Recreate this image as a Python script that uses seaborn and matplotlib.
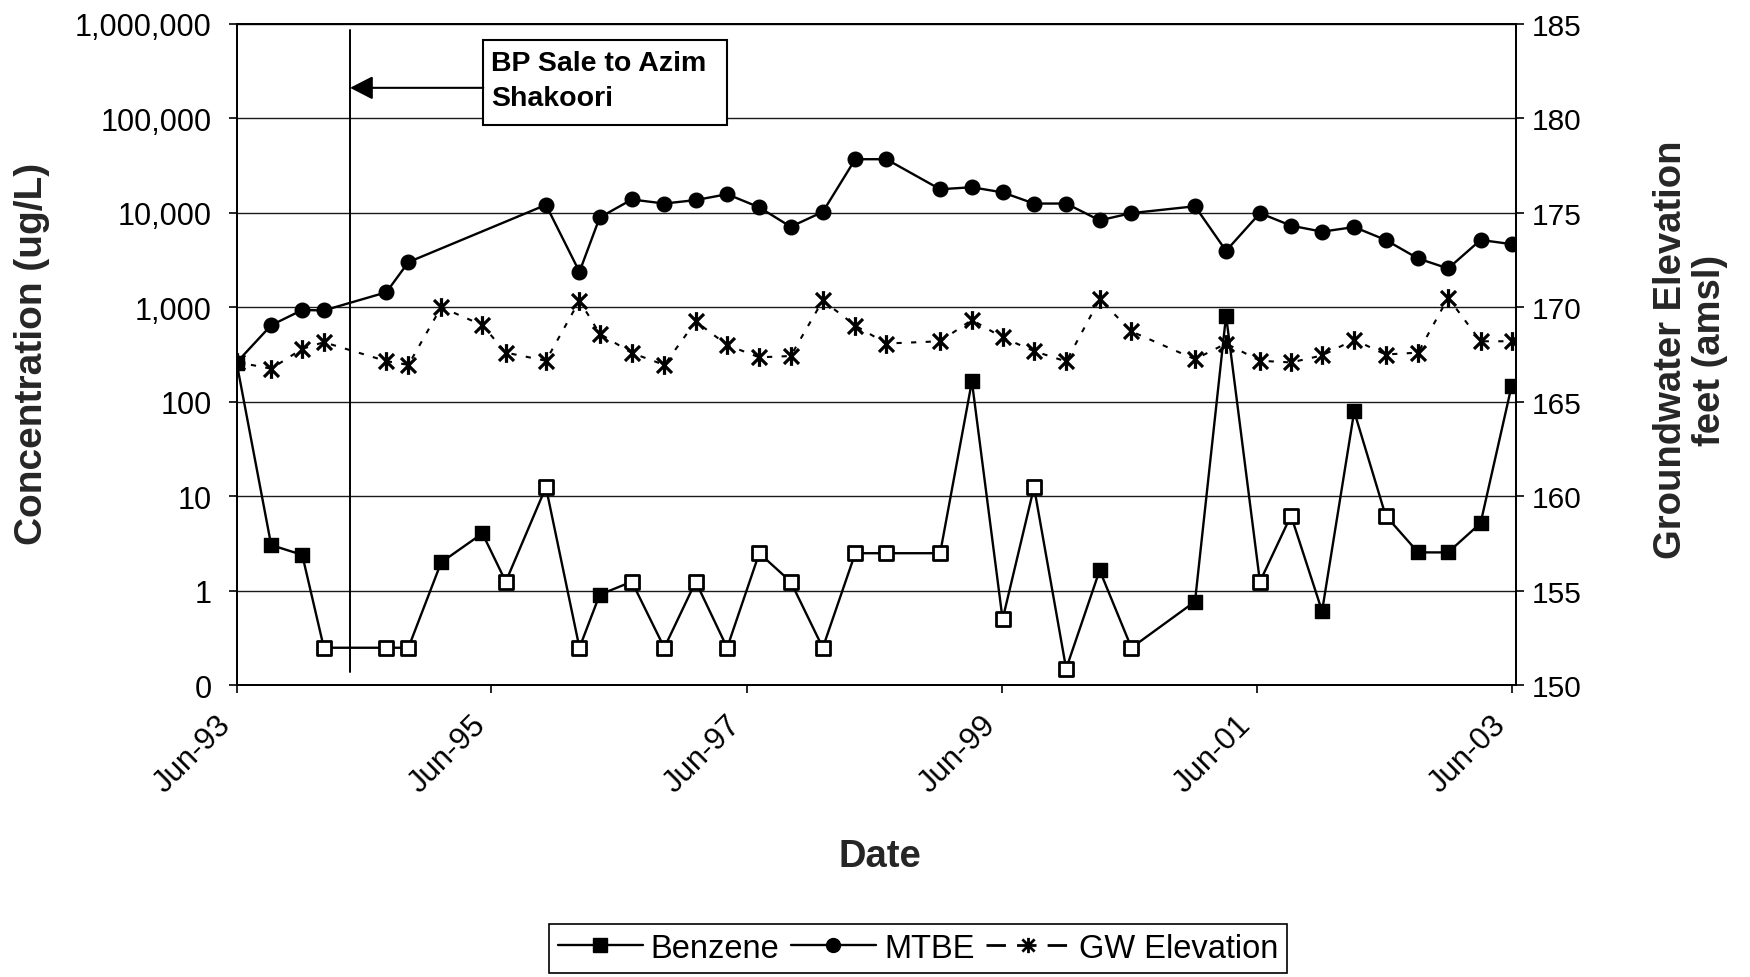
import matplotlib
matplotlib.use("Agg")
import matplotlib.pyplot as plt
import matplotlib.dates as mdates
import numpy as np
import pandas as pd
import seaborn as sns
from matplotlib.lines import Line2D
from matplotlib.patches import Rectangle
from matplotlib.path import Path
from matplotlib.ticker import NullLocator

# ---- monitoring-well data -------------------------------------------------
sample_dates = [
    "1993-06-01", "1993-09-08", "1993-12-06", "1994-02-06", "1994-08-04",
    "1994-10-06", "1995-01-08", "1995-05-06", "1995-07-12", "1995-11-04",
    "1996-02-08", "1996-04-06", "1996-07-07", "1996-10-08", "1997-01-06",
    "1997-04-06", "1997-07-07", "1997-10-05", "1998-01-05", "1998-04-08",
    "1998-07-06", "1998-12-07", "1999-03-08", "1999-06-04", "1999-09-02",
    "1999-12-03", "2000-03-08", "2000-06-07", "2000-12-06", "2001-03-05",
    "2001-06-10", "2001-09-07", "2001-12-05", "2002-03-07", "2002-06-05",
    "2002-09-06", "2002-12-01", "2003-03-04", "2003-06-01",
]

# Benzene (ug/L); non-detects are plotted at half the reporting limit
benzene = [
    260, 3.05, 2.4, 0.25, 0.25, 0.25, 2.0, 4.05, 1.25, 12.5,
    0.25, 0.91, 1.25, 0.25, 1.25, 0.25, 2.5, 1.25, 0.25, 2.5,
    2.5, 2.5, 164, 0.5, 12.5, 0.15, 1.65, 0.25, 0.77, 815,
    1.25, 6.25, 0.61, 79, 6.25, 2.55, 2.55, 5.2, 148,
]
benzene_detected = [
    1, 1, 1, 0, 0, 0, 1, 1, 0, 0,
    0, 1, 0, 0, 0, 0, 0, 0, 0, 0,
    0, 0, 1, 0, 0, 0, 1, 0, 1, 1,
    0, 0, 1, 1, 0, 1, 1, 1, 1,
]

# MTBE (ug/L); not analysed on three dates
mtbe = [
    260, 645, 935, 925, 1440, 3000, None, None, None, 12100,
    2370, 8900, 13800, 12500, 13600, 15700, 11400, 7100, 10200, 36800,
    36800, 17700, 18600, 16400, 12500, 12500, 8300, 9900, 11700, 3950,
    9900, 7300, 6300, 7050, 5150, 3280, 2570, 5150, 4650,
]

# Groundwater elevation (feet amsl)
gw_elevation = [
    167.1, 166.75, 167.8, 168.15, 167.15, 166.95, 170.0, 169.05, 167.6, 167.17,
    170.35, 168.6, 167.58, 166.95, 169.25, 168.0, 167.35, 167.42, 170.36, 169.03,
    168.08, 168.2, 169.33, 168.4, 167.68, 167.13, 170.42, 168.72, 167.25, 168.08,
    167.17, 167.08, 167.45, 168.28, 167.5, 167.6, 170.5, 168.2, 168.2,
]

conc_ticks = [0.1, 1, 10, 100, 1e3, 1e4, 1e5, 1e6]
conc_tick_labels = ["0", "1", "10", "100", "1,000", "10,000", "100,000", "1,000,000"]
elev_ticks = [150, 155, 160, 165, 170, 175, 180, 185]
date_ticks = ["1993-06-01", "1995-06-01", "1997-06-01", "1999-06-01",
              "2001-06-01", "2003-06-01"]
date_tick_labels = ["Jun-93", "Jun-95", "Jun-97", "Jun-99", "Jun-01", "Jun-03"]
date_range = ["1993-06-01", "2003-06-12"]

sale_date = "1994-04-22"
sale_text = "BP Sale to Azim\nShakoori"
legend_labels = ["Benzene", "MTBE", "GW Elevation"]

# ---- frame ----------------------------------------------------------------
df = pd.DataFrame({
    "date": pd.to_datetime(sample_dates),
    "benzene": np.array(benzene, dtype=float),
    "detected": benzene_detected,
    "mtbe": np.array(mtbe, dtype=float),
    "gw": np.array(gw_elevation, dtype=float),
})

sns.set_theme(style="white")
plt.rcParams["font.family"] = ["Liberation Sans", "DejaVu Sans"]
plt.rcParams["text.color"] = "black"

INK = "black"
# Excel-style "star" marker: an X crossed by a vertical bar
star = Path(
    [(-1, -1), (1, 1), (-1, 1), (1, -1), (0, -1.25), (0, 1.25)],
    [Path.MOVETO, Path.LINETO, Path.MOVETO, Path.LINETO, Path.MOVETO, Path.LINETO],
)

fig = plt.figure(figsize=(17.5, 9.78), dpi=100)
ax = fig.add_axes([0.1352, 0.2982, 0.866 - 0.1352, 0.9748 - 0.2982])
ax2 = ax.twinx()
ax.set_yscale("log")

# ---- series ---------------------------------------------------------------
sns.lineplot(data=df, x="date", y="benzene", ax=ax, color=INK, lw=1.7,
             legend=False, zorder=3)
sns.scatterplot(data=df[df["detected"] == 1], x="date", y="benzene", ax=ax,
                marker="s", s=110, color=INK, edgecolor=INK, linewidth=1.0,
                legend=False, zorder=4)
sns.scatterplot(data=df[df["detected"] == 0], x="date", y="benzene", ax=ax,
                marker="s", s=100, facecolor="white", edgecolor=INK,
                linewidth=2.0, legend=False, zorder=4)

mt = df.dropna(subset=["mtbe"])
sns.lineplot(data=mt, x="date", y="mtbe", ax=ax, color=INK, lw=1.7,
             marker="o", markersize=10.5, markerfacecolor=INK,
             markeredgecolor=INK, markeredgewidth=1.0, legend=False, zorder=3)

sns.lineplot(data=df, x="date", y="gw", ax=ax2, color=INK, lw=1.5,
             linestyle=(0, (2.5, 4.5)), marker=star, markersize=13.5,
             markeredgecolor=INK, markeredgewidth=2.3, legend=False, zorder=3)

# ---- axes -----------------------------------------------------------------
ax.set_xlim(mdates.date2num(pd.to_datetime(date_range[0])),
            mdates.date2num(pd.to_datetime(date_range[1])))
ax.set_ylim(conc_ticks[0], conc_ticks[-1])
ax.set_yticks(conc_ticks)
ax.set_yticklabels(conc_tick_labels)
ax.yaxis.set_minor_locator(NullLocator())
ax.set_xticks(mdates.date2num(pd.to_datetime(date_ticks)))
ax.set_xticklabels(date_tick_labels, rotation=45, ha="right")
ax.xaxis.set_minor_locator(NullLocator())

ax2.set_ylim(elev_ticks[0], elev_ticks[-1])
ax2.set_yticks(elev_ticks)
ax2.set_yticklabels([str(t) for t in elev_ticks])
ax2.yaxis.set_minor_locator(NullLocator())

ax.yaxis.grid(True, which="major", color="#1a1a1a", lw=1.0)
ax.xaxis.grid(False)
ax2.grid(False)

for a in (ax, ax2):
    for sp in a.spines.values():
        sp.set_visible(True)
        sp.set_color(INK)
        sp.set_linewidth(1.3)

ax.tick_params(axis="y", which="major", left=True, direction="out", length=6,
               width=1.2, pad=12, labelsize=22, colors=INK)
ax.tick_params(axis="x", which="major", bottom=True, direction="out", length=6,
               width=1.2, pad=11, labelsize=22.5, colors=INK)
ax2.tick_params(axis="y", which="major", right=True, direction="out", length=6,
                width=1.2, pad=6, labelsize=21.5, colors=INK)

ax.set_xlabel("Date", fontsize=27.5, fontweight="bold", va="center")
ax.xaxis.set_label_coords(0.5027, -0.258)
ax.set_ylabel("Concentration (ug/L)", fontsize=28, fontweight="bold",
              ha="center", va="center")
ax.yaxis.set_label_coords(-0.160, 0.502)
ax2.set_ylabel("Groundwater Elevation\nfeet (amsl)", fontsize=27.5,
               fontweight="bold", ha="center", va="center", ma="center",
               rotation=90, linespacing=1.1)
ax2.yaxis.set_label_coords(1.137, 0.508)

# ---- ownership change marker ------------------------------------------------
sale = mdates.date2num(pd.to_datetime(sale_date))
ax.axvline(sale, ymin=0.02, ymax=0.99, color=INK, lw=1.4, zorder=5)

box_x, box_y, box_w, box_h = 0.1929, 0.8466, 0.1905, 0.1282
arrow_y = 0.903
ax.add_patch(Rectangle((box_x, box_y), box_w, box_h, transform=ax.transAxes,
                       facecolor="white", edgecolor=INK, lw=1.5, zorder=6))
ax.text(box_x + 0.006, box_y + box_h * 0.53, sale_text, transform=ax.transAxes,
        ha="left", va="center", fontsize=20.5, fontweight="bold",
        linespacing=1.45, zorder=7)
ax.annotate(
    "", xy=(sale, arrow_y), xycoords=ax.get_xaxis_transform(),
    xytext=(box_x, arrow_y), textcoords="axes fraction",
    arrowprops=dict(arrowstyle="-|>,head_length=0.7,head_width=0.36",
                    color=INK, lw=1.5, shrinkA=0, shrinkB=0,
                    mutation_scale=20),
    zorder=6,
)

# ---- legend ---------------------------------------------------------------
handles = [
    Line2D([], [], color=INK, lw=1.7, marker="s", markersize=10,
           markerfacecolor=INK, markeredgecolor=INK),
    Line2D([], [], color=INK, lw=1.7, marker="o", markersize=10,
           markerfacecolor=INK, markeredgecolor=INK),
    Line2D([], [], color=INK, lw=2.0, linestyle=(0, (7, 4)), marker=star,
           markersize=11, markeredgecolor=INK, markeredgewidth=2.0),
]
leg = fig.legend(handles, legend_labels, loc="center",
                 bbox_to_anchor=(0.5246, 0.0295), ncol=3, fontsize=23.5,
                 frameon=True, fancybox=False, framealpha=1, edgecolor=INK,
                 borderpad=0.28, handlelength=2.6, handletextpad=0.25,
                 columnspacing=0.35)
leg.get_frame().set_linewidth(1.2)

fig.savefig("out.png", dpi=100, facecolor="white")
